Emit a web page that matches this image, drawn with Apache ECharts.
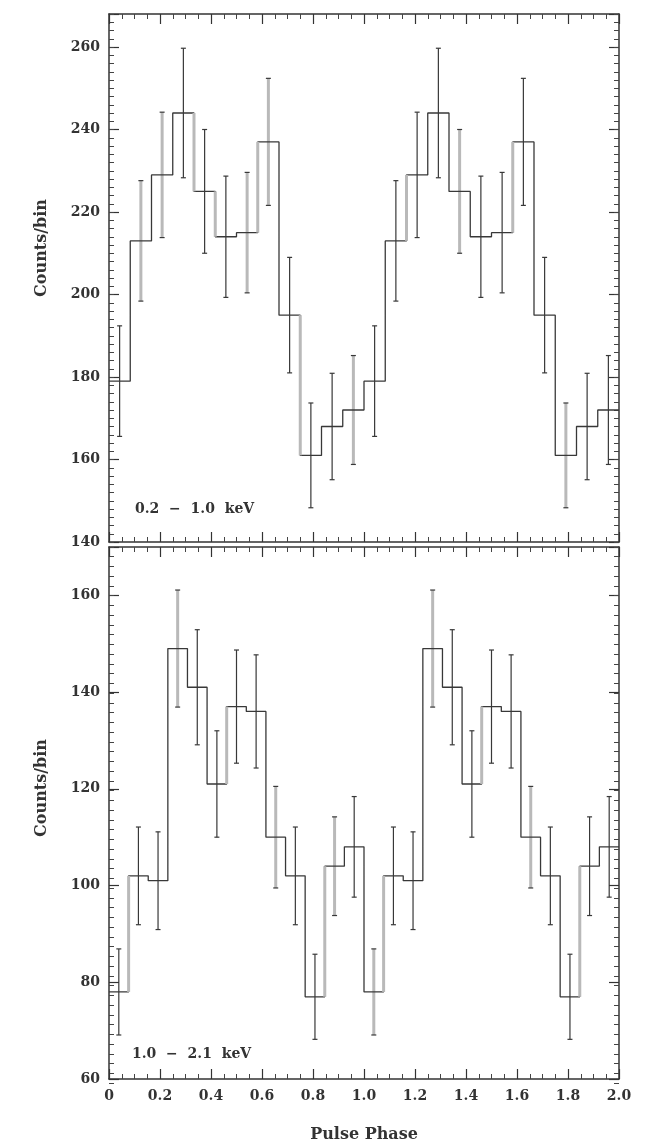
<!DOCTYPE html>
<html>
<head>
<meta charset="utf-8">
<script src="https://cdn.jsdelivr.net/npm/echarts@6/dist/echarts.min.js"></script>
<style>
html,body{margin:0;padding:0;background:#ffffff;}
#chart{width:654px;height:1144px;}
</style>
</head>
<body>
<div id="chart"></div>
<script>
// ---------------- data ----------------
// 0.2 - 1.0 keV : 12 phase bins per cycle, two cycles shown
const softBinsPerCycle = 12;
const softCounts = [179, 213, 229, 244, 225, 214, 215, 237, 195, 161, 168, 172,
                    179, 213, 229, 244, 225, 214, 215, 237, 195, 161, 168, 172];
const softErrors = [13.4, 14.6, 15.2, 15.7, 15.0, 14.7, 14.6, 15.4, 14.0, 12.7, 12.9, 13.2,
                    13.4, 14.6, 15.2, 15.7, 15.0, 14.7, 14.6, 15.4, 14.0, 12.7, 12.9, 13.2];
// 1.0 - 2.1 keV : 13 phase bins per cycle, two cycles shown
const hardBinsPerCycle = 13;
const hardCounts = [78, 102, 101, 149, 141, 121, 137, 136, 110, 102, 77, 104, 108,
                    78, 102, 101, 149, 141, 121, 137, 136, 110, 102, 77, 104, 108];
const hardErrors = [8.9, 10.1, 10.1, 12.1, 11.9, 11.0, 11.7, 11.7, 10.5, 10.1, 8.8, 10.2, 10.4,
                    8.9, 10.1, 10.1, 12.1, 11.9, 11.0, 11.7, 11.7, 10.5, 10.1, 8.8, 10.2, 10.4];
const softLabel = '0.2  \u2212  1.0  keV';
const hardLabel = '1.0  \u2212  2.1  keV';
const yTitle = 'Counts/bin';
const xTitle = 'Pulse Phase';

// ---------------- style lists (which marks look grey in the scan) ----------------
const softGreyBars = [1, 2, 6, 7, 11, 16, 21];
const softGreyEdges = [4, 5, 7, 9, 14, 19];
const hardGreyBars = [3, 8, 11, 13, 16, 21];
const hardGreyEdges = [1, 6, 11, 14, 19, 24];

const DARK = '#383838';
const GREY = '#b9b9b9';
const FONT = '"DejaVu Serif", serif';

function stepData(counts, perCycle) {
  const w = 1 / perCycle;
  const d = counts.map((v, k) => [k * w, v]);
  d.push([counts.length * w, counts[counts.length - 1]]);
  return d;
}
function errData(counts, errors, perCycle) {
  const w = 1 / perCycle;
  return counts.map((v, k) => [(k + 0.5) * w, v, errors[k]]);
}
function edgeData(counts, edges, perCycle) {
  const w = 1 / perCycle;
  return edges.map(k => [k * w, counts[k - 1], counts[k]]);
}

function panelSeries(counts, errors, perCycle, greyBars, greyEdges, xi, yi) {
  return [
    {
      type: 'custom', xAxisIndex: xi, yAxisIndex: yi, z: 2, silent: true,
      dimensions: ['x', 'v', 'e'], encode: { x: 0, y: 1 },
      data: errData(counts, errors, perCycle),
      renderItem: function (params, api) {
        const x = api.value(0), v = api.value(1), e = api.value(2);
        const t = api.coord([x, v + e]);
        const b = api.coord([x, v - e]);
        const grey = greyBars.indexOf(params.dataIndex) >= 0;
        return {
          type: 'group',
          children: [
            { type: 'line', shape: { x1: t[0], y1: t[1], x2: b[0], y2: b[1] },
              style: { stroke: grey ? GREY : DARK, lineWidth: grey ? 3 : 1.2 } },
            { type: 'line', shape: { x1: t[0] - 2.5, y1: t[1], x2: t[0] + 2.5, y2: t[1] },
              style: { stroke: DARK, lineWidth: 1.2 } },
            { type: 'line', shape: { x1: b[0] - 2.5, y1: b[1], x2: b[0] + 2.5, y2: b[1] },
              style: { stroke: DARK, lineWidth: 1.2 } }
          ]
        };
      }
    },
    {
      type: 'line', xAxisIndex: xi, yAxisIndex: yi, z: 3, silent: true,
      step: 'end', symbol: 'none', animation: false,
      lineStyle: { color: DARK, width: 1.3 },
      data: stepData(counts, perCycle)
    },
    {
      type: 'custom', xAxisIndex: xi, yAxisIndex: yi, z: 4, silent: true,
      dimensions: ['x', 'a', 'b'], encode: { x: 0, y: [1, 2] },
      data: edgeData(counts, greyEdges, perCycle),
      renderItem: function (params, api) {
        const p1 = api.coord([api.value(0), api.value(1)]);
        const p2 = api.coord([api.value(0), api.value(2)]);
        return { type: 'line', shape: { x1: p1[0], y1: p1[1], x2: p2[0], y2: p2[1] },
                 style: { stroke: GREY, lineWidth: 3 } };
      }
    }
  ];
}

function axisLine() { return { show: true, onZero: false, lineStyle: { color: '#333', width: 1.5 } }; }
function majorTick() { return { show: true, inside: true, length: 10, lineStyle: { color: '#333', width: 1.2 } }; }
function minorTickY() { return { show: true, inside: true, length: 5, lineStyle: { color: '#444', width: 1 } }; }

function xMain(grid, pos, labels) {
  return {
    type: 'value', gridIndex: grid, position: pos, min: 0, max: 2, interval: 0.2,
    axisLine: axisLine(), axisTick: majorTick(),
    minorTick: { show: true, splitNumber: 4, length: 5, lineStyle: { color: '#444', width: 1 } },
    splitLine: { show: false }, minorSplitLine: { show: false },
    axisLabel: labels ? {
      show: true, margin: 10, color: '#333', fontFamily: FONT, fontWeight: 'bold', fontSize: 14,
      formatter: v => (Math.abs(v) < 1e-9 ? '0' : v.toFixed(1))
    } : { show: false }
  };
}
function xHidden(grid) {
  return { type: 'value', gridIndex: grid, min: 0, max: 2, show: false, axisLine: { onZero: false } };
}
function yMain(grid, pos, min, max, labels) {
  return {
    type: 'value', gridIndex: grid, position: pos, min: min, max: max, interval: 20,
    axisLine: axisLine(), axisTick: majorTick(),
    splitLine: { show: false },
    axisLabel: labels ? {
      show: true, margin: 9, color: '#333', fontFamily: FONT, fontWeight: 'bold', fontSize: 14,
      formatter: v => (v % 20 === 0 ? String(v) : '')
    } : { show: false }
  };
}
function yMinor(grid, pos, min, max) {
  return {
    type: 'value', gridIndex: grid, position: pos, min: min, max: max, interval: 2,
    axisLine: { show: false, onZero: false }, axisTick: minorTickY(),
    splitLine: { show: false }, axisLabel: { show: false }
  };
}

const topRect = { left: 109, width: 510, top: 14, height: 528 };
const botRect = { left: 109, width: 510, top: 547, height: 536 };

const xAxes = [
  xMain(0, 'bottom', false), xMain(0, 'top', false), xHidden(1),
  Object.assign(xMain(2, 'bottom', true), {
    name: xTitle, nameLocation: 'middle', nameGap: 48,
    nameTextStyle: { fontFamily: FONT, fontWeight: 'bold', fontSize: 16, color: '#333' }
  }),
  xMain(2, 'top', false), xHidden(3)
];
const yAxes = [
  yMain(0, 'left', 140, 268, true), yMain(0, 'right', 140, 268, false),
  yMinor(1, 'left', 140, 268), yMinor(1, 'right', 140, 268),
  yMain(2, 'left', 60, 170, true), yMain(2, 'right', 60, 170, false),
  yMinor(3, 'left', 60, 170), yMinor(3, 'right', 60, 170)
];

const option = {
  animation: false,
  backgroundColor: '#ffffff',
  grid: [
    Object.assign({}, topRect), Object.assign({}, topRect),
    Object.assign({}, botRect), Object.assign({}, botRect)
  ],
  xAxis: xAxes,
  yAxis: yAxes,
  series: [].concat(
    panelSeries(softCounts, softErrors, softBinsPerCycle, softGreyBars, softGreyEdges, 0, 0),
    panelSeries(hardCounts, hardErrors, hardBinsPerCycle, hardGreyBars, hardGreyEdges, 3, 4)
  ),
  graphic: [
    { type: 'text', x: 42, y: 248, rotation: Math.PI / 2, silent: true,
      style: { text: yTitle, align: 'center', verticalAlign: 'middle',
               font: 'bold 16px ' + FONT, fill: '#333' } },
    { type: 'text', x: 42, y: 788, rotation: Math.PI / 2, silent: true,
      style: { text: yTitle, align: 'center', verticalAlign: 'middle',
               font: 'bold 16px ' + FONT, fill: '#333' } },
    { type: 'text', x: 135, y: 509, silent: true,
      style: { text: softLabel, align: 'left', verticalAlign: 'middle',
               font: 'bold 14px ' + FONT, fill: '#333' } },
    { type: 'text', x: 132, y: 1054, silent: true,
      style: { text: hardLabel, align: 'left', verticalAlign: 'middle',
               font: 'bold 14px ' + FONT, fill: '#333' } }
  ]
};

const chart = echarts.init(document.getElementById('chart'), null, { renderer: 'canvas' });
chart.setOption(option);
</script>
</body>
</html>
